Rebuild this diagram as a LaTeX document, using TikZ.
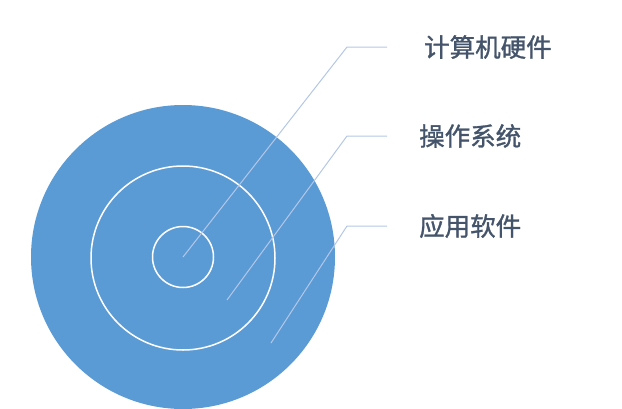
\documentclass[tikz,border=0pt]{standalone}
\usepackage{fontspec}
\newfontfamily\cjk{Noto Sans CJK SC}[FakeBold=1.2]
\definecolor{disk}{HTML}{5B9BD5}
\definecolor{leader}{HTML}{B4C7E7}
\definecolor{txt}{HTML}{44546A}
\begin{document}
\begin{tikzpicture}[x=1pt,y=-1pt,
  ring/.style={draw=white,line width=1.5pt},
  leaderline/.style={draw=leader,line width=1pt},
  lbl/.style={anchor=west,inner sep=0pt,text=txt,font=\cjk\fontsize{25.5}{30}\selectfont}]
\useasboundingbox (0,0) rectangle (622,408);
\begin{scope}
\clip (0,0) rectangle (622,408);
\fill[disk] (183,257) circle (152);
\end{scope}
\draw[ring] (183,258) circle (92);
\draw[ring] (183,257) circle (30.5);
\coordinate (p1) at (183,257);
\coordinate (p2) at (227,300);
\coordinate (p3) at (271,343);
\coordinate (k1) at (347,47);
\coordinate (k2) at (347,136);
\coordinate (k3) at (347,226);
\coordinate (e1) at (387,47);
\coordinate (e2) at (387,136);
\coordinate (e3) at (387,226);
\node[lbl] (t1) at (424,47) {计算机硬件};
\node[lbl] (t2) at (419,136) {操作系统};
\node[lbl] (t3) at (419,226) {应用软件};
\draw[leaderline] (p1) -- (k1) -- (e1);
\draw[leaderline] (p2) -- (k2) -- (e2);
\draw[leaderline] (p3) -- (k3) -- (e3);
\end{tikzpicture}
\end{document}
